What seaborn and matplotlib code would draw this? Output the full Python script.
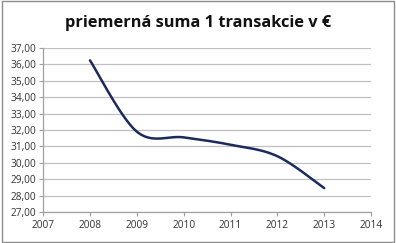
import numpy as np
import pandas as pd
import matplotlib
matplotlib.use("Agg")
import matplotlib.pyplot as plt
import seaborn as sns
from matplotlib.patches import Rectangle

years = [2008, 2009, 2010, 2011, 2012, 2013]
values = [36.25, 31.9, 31.55, 31.1, 30.4, 28.45]
title = "priemerná suma 1 transakcie v €"
xticks = [2007, 2008, 2009, 2010, 2011, 2012, 2013, 2014]
yticks = [27, 28, 29, 30, 31, 32, 33, 34, 35, 36, 37]


def smooth(xs, ys, n=30):
    xs = np.asarray(xs, float)
    ys = np.asarray(ys, float)
    px = np.concatenate([[xs[0]], xs, [xs[-1]]])
    py = np.concatenate([[ys[0]], ys, [ys[-1]]])
    ox, oy = [], []
    t = np.linspace(0, 1, n)
    for i in range(1, len(px) - 2):
        p0x, p1x, p2x, p3x = px[i - 1], px[i], px[i + 1], px[i + 2]
        p0y, p1y, p2y, p3y = py[i - 1], py[i], py[i + 1], py[i + 2]
        c1x = p1x + (p2x - p0x) / 6
        c1y = p1y + (p2y - p0y) / 6
        c2x = p2x - (p3x - p1x) / 6
        c2y = p2y - (p3y - p1y) / 6
        bx = (1 - t) ** 3 * p1x + 3 * (1 - t) ** 2 * t * c1x + 3 * (1 - t) * t ** 2 * c2x + t ** 3 * p2x
        by = (1 - t) ** 3 * p1y + 3 * (1 - t) ** 2 * t * c1y + 3 * (1 - t) * t ** 2 * c2y + t ** 3 * p2y
        ox.extend(bx)
        oy.extend(by)
    return np.array(ox), np.array(oy)


sx, sy = smooth(years, values)
df = pd.DataFrame({"x": sx, "y": sy})

sns.set_theme(style="white")
plt.rcParams["font.family"] = ["Open Sans", "DejaVu Sans"]

fig = plt.figure(figsize=(3.96, 2.43), dpi=100)
fig.patches.append(Rectangle((0.004, 0.006), 0.99, 0.988, transform=fig.transFigure,
                             fill=False, edgecolor="#8c8c8c", linewidth=1.0))
ax = fig.add_axes([0.109, 0.128, 0.828, 0.674])
sns.lineplot(data=df, x="x", y="y", ax=ax, color="#1c2a5e", linewidth=1.8, sort=False)

ax.set_xlim(2007, 2014)
ax.set_ylim(27, 37)
ax.set_xticks(xticks)
ax.set_xticklabels([str(v) for v in xticks])
ax.set_yticks(yticks)
ax.set_yticklabels([f"{v:.2f}".replace(".", ",") for v in yticks])
ax.yaxis.grid(True, color="#c0c0c0", linewidth=0.9)
ax.xaxis.grid(False)
for s in ["top", "right"]:
    ax.spines[s].set_visible(False)
for s in ["left", "bottom"]:
    ax.spines[s].set_color("#a0a0a0")
    ax.spines[s].set_linewidth(0.9)
ax.tick_params(axis="both", labelsize=7.3, colors="#a0a0a0", labelcolor="#333333",
               length=3, width=0.8, direction="out", pad=2)
ax.tick_params(axis="x", bottom=True, pad=3)
ax.tick_params(axis="y", left=True)
ax.set_xlabel("")
ax.set_ylabel("")
fig.text(0.5, 0.905, title, ha="center", va="center", fontsize=11.8, fontweight="bold", color="#111111")

fig.savefig("out.png", dpi=100)
